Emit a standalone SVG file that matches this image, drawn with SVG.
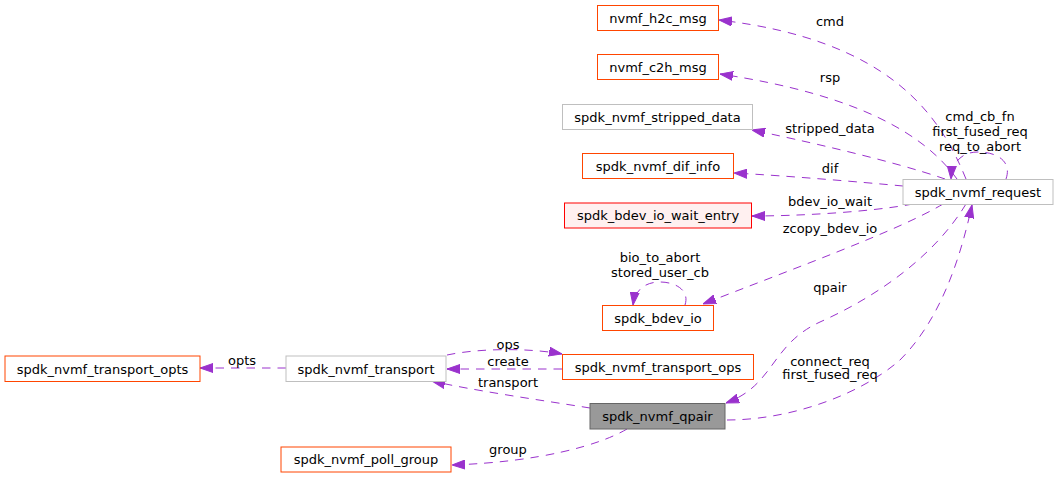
<svg xmlns="http://www.w3.org/2000/svg" width="1059" height="477" viewBox="0 0 1059 477">
<style>
text{font-family:"DejaVu Sans",sans-serif;font-size:13px;fill:#000;text-anchor:middle}
.n rect{fill:#fff;stroke:#ff4500;stroke-width:1}
.g rect{fill:#fff;stroke:#bfbfbf}
.r rect{fill:#fff0f0;stroke:#ff0000}
.q rect{fill:#999999;stroke:#666666}
.e path{fill:none;stroke:#9a32cd;stroke-width:1;stroke-dasharray:8.5,7;marker-end:url(#ah)}
</style>
<defs>
<marker id="ah" markerUnits="userSpaceOnUse" markerWidth="13" markerHeight="10" viewBox="0 0 13 10" refX="13" refY="5" orient="auto">
<path d="M0,0.5 L13,5 L0,9.5 z" fill="#9a32cd" stroke="#9a32cd" stroke-width="1"/>
</marker>
</defs>
<rect width="1059" height="477" fill="#fff"/>
<g id="connectors" class="e">
<path d="M966,179 C940,115 890,40 719,20"/>
<path d="M957,179 C925,135 860,95 720,74"/>
<path d="M945,179 C890,160 800,140 752,130"/>
<path d="M903,186 C860,182 790,176 734,173"/>
<path d="M913,204 C870,212 800,216 752,216"/>
<path d="M943,204 C900,230 790,270 703,304"/>
<path d="M966,204 C935,255 880,295 820,322 C770,345 775,385 726,403"/>
<path d="M727,420 C790,420 860,395 900,360 C940,320 960,260 972,205"/>
<path d="M1006,179 C1012,162 998,152 978,152 C962,152 952,162 951,179"/>
<path d="M685,305 C690,290 675,282 660,282 C645,282 635,290 633,305"/>
<path d="M447,355 C480,348 530,348 562,354"/>
<path d="M562,369 L447,369"/>
<path d="M590,408 C540,400 470,390 432,381"/>
<path d="M627,429 C600,445 540,462 452,465"/>
<path d="M286,368 L200,368"/>
</g>
<g id="edge-labels">
<text x="830" y="26">cmd</text>
<text x="830" y="82">rsp</text>
<text x="830" y="133">stripped_data</text>
<text x="830" y="173">dif</text>
<text x="980" y="121">cmd_cb_fn</text>
<text x="980" y="136">first_fused_req</text>
<text x="980" y="151">req_to_abort</text>
<text x="830" y="206">bdev_io_wait</text>
<text x="830" y="233">zcopy_bdev_io</text>
<text x="660" y="262">bio_to_abort</text>
<text x="660" y="277">stored_user_cb</text>
<text x="830" y="292">qpair</text>
<text x="830" y="366">connect_req</text>
<text x="830" y="379">first_fused_req</text>
<text x="508" y="349">ops</text>
<text x="508" y="366">create</text>
<text x="508" y="387">transport</text>
<text x="508" y="454">group</text>
<text x="242" y="365">opts</text>
</g>
<g id="nvmf_h2c_msg" class="n"><rect x="597.5" y="5.5" width="121" height="25"/><text x="658" y="22.5">nvmf_h2c_msg</text></g>
<g id="nvmf_c2h_msg" class="n"><rect x="597.5" y="54.5" width="121" height="25"/><text x="658" y="71.5">nvmf_c2h_msg</text></g>
<g id="spdk_nvmf_stripped_data" class="g"><rect x="562.5" y="104.5" width="190" height="25"/><text x="657.5" y="121.5">spdk_nvmf_stripped_data</text></g>
<g id="spdk_nvmf_dif_info" class="n"><rect x="582.5" y="153.5" width="151" height="25"/><text x="658" y="170.5">spdk_nvmf_dif_info</text></g>
<g id="spdk_nvmf_request" class="g"><rect x="903" y="179.5" width="150" height="25"/><text x="978" y="196.5">spdk_nvmf_request</text></g>
<g id="spdk_bdev_io_wait_entry" class="r"><rect x="564.5" y="203" width="187" height="25"/><text x="658" y="220">spdk_bdev_io_wait_entry</text></g>
<g id="spdk_bdev_io" class="n"><rect x="602.5" y="305.5" width="111" height="25"/><text x="658" y="322.5">spdk_bdev_io</text></g>
<g id="spdk_nvmf_transport_opts" class="n"><rect x="5" y="356" width="195" height="25.5"/><text x="102.5" y="373.5">spdk_nvmf_transport_opts</text></g>
<g id="spdk_nvmf_transport" class="g"><rect x="286" y="356" width="160" height="25.5"/><text x="366" y="373.5">spdk_nvmf_transport</text></g>
<g id="spdk_nvmf_transport_ops" class="n"><rect x="562.5" y="354.5" width="191" height="25"/><text x="658" y="371.5">spdk_nvmf_transport_ops</text></g>
<g id="spdk_nvmf_qpair" class="q"><rect x="590" y="403.5" width="135" height="25.5"/><text x="657.5" y="421">spdk_nvmf_qpair</text></g>
<g id="spdk_nvmf_poll_group" class="n"><rect x="281" y="447" width="170" height="25"/><text x="366" y="464">spdk_nvmf_poll_group</text></g>
</svg>
